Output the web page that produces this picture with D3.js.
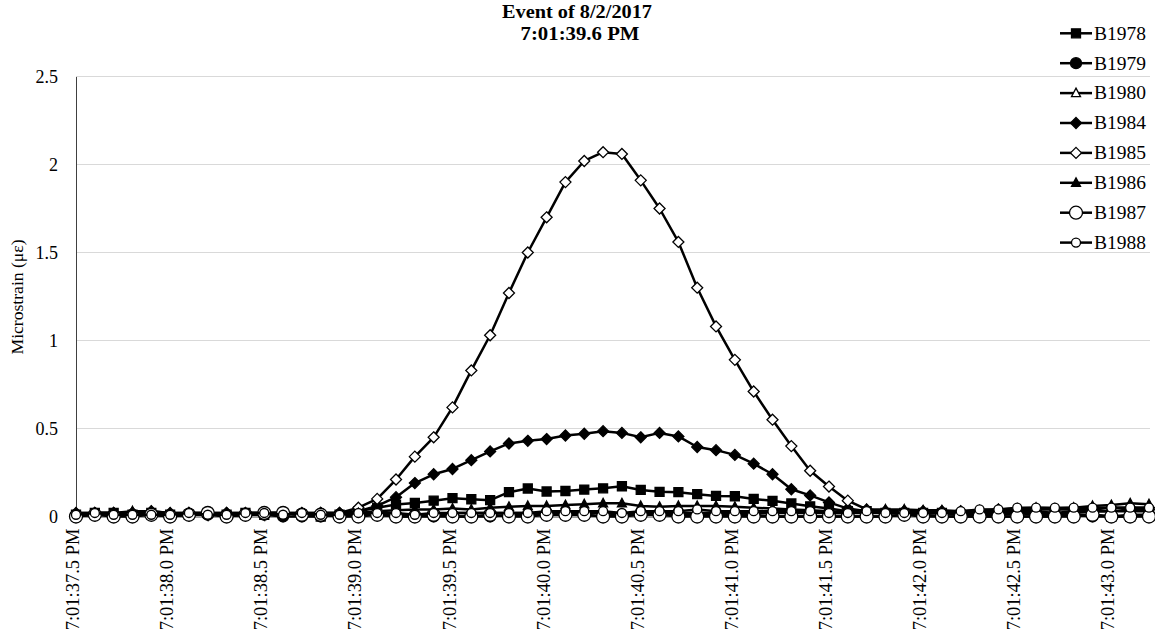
<!DOCTYPE html>
<html><head><meta charset="utf-8">
<script src="https://cdn.jsdelivr.net/npm/d3@7"></script>
<style>body{margin:0;background:#fff}text{font-family:"Liberation Serif","Times New Roman",serif}</style>
</head><body><svg id="c" width="1155" height="635"></svg>
<script>
const categories = ["7:01:37.5 PM","7:01:37.6 PM","7:01:37.7 PM","7:01:37.8 PM","7:01:37.9 PM",
"7:01:38.0 PM","7:01:38.1 PM","7:01:38.2 PM","7:01:38.3 PM","7:01:38.4 PM",
"7:01:38.5 PM","7:01:38.6 PM","7:01:38.7 PM","7:01:38.8 PM","7:01:38.9 PM",
"7:01:39.0 PM","7:01:39.1 PM","7:01:39.2 PM","7:01:39.3 PM","7:01:39.4 PM",
"7:01:39.5 PM","7:01:39.6 PM","7:01:39.7 PM","7:01:39.8 PM","7:01:39.9 PM",
"7:01:40.0 PM","7:01:40.1 PM","7:01:40.2 PM","7:01:40.3 PM","7:01:40.4 PM",
"7:01:40.5 PM","7:01:40.6 PM","7:01:40.7 PM","7:01:40.8 PM","7:01:40.9 PM",
"7:01:41.0 PM","7:01:41.1 PM","7:01:41.2 PM","7:01:41.3 PM","7:01:41.4 PM",
"7:01:41.5 PM","7:01:41.6 PM","7:01:41.7 PM","7:01:41.8 PM","7:01:41.9 PM",
"7:01:42.0 PM","7:01:42.1 PM","7:01:42.2 PM","7:01:42.3 PM","7:01:42.4 PM",
"7:01:42.5 PM","7:01:42.6 PM","7:01:42.7 PM","7:01:42.8 PM","7:01:42.9 PM",
"7:01:43.0 PM","7:01:43.1 PM","7:01:43.2 PM"];
const tickLabels = ["7:01:37.5 PM","7:01:38.0 PM","7:01:38.5 PM","7:01:39.0 PM","7:01:39.5 PM","7:01:40.0 PM","7:01:40.5 PM","7:01:41.0 PM","7:01:41.5 PM","7:01:42.0 PM","7:01:42.5 PM","7:01:43.0 PM"];
const yTicks = [0, 0.5, 1, 1.5, 2, 2.5];
const seriesNames = ["B1978","B1979","B1980","B1984","B1985","B1986","B1987","B1988"];
const B1978 = [0.01,0.02,0.02,0.01,0.02,0.01,0.01,0.02,0.01,0.02,0.01,0.02,0.01,0.00,0.01,
0.03,0.05,0.068,0.077,0.09,0.104,0.098,0.093,0.138,0.159,0.142,0.145,0.153,0.16,0.172,
0.151,0.14,0.138,0.127,0.117,0.115,0.10,0.089,0.074,0.058,0.045,0.03,
0.03,0.02,0.02,0.02,0.02,0.01,0.01,0.01,0.02,0.01,0.01,0.01,0.01,0.00,0.00,0.01];
const B1979 = [0.00,0.01,0.01,0.01,0.01,0.00,0.01,0.01,0.00,0.01,0.01,0.00,0.00,0.00,0.01,
0.01,0.01,0.00,0.00,0.00,0.00,0.00,0.00,0.01,0.01,0.01,0.01,0.01,0.00,0.01,
0.01,0.01,0.01,0.01,0.01,0.01,0.01,0.00,0.00,0.00,0.00,0.00,
0.00,0.00,0.01,0.01,0.00,0.00,0.00,0.00,0.00,0.00,0.00,0.01,0.00,0.00,0.01,0.01];
const B1980 = [0.01,0.02,0.02,0.02,0.02,0.01,0.02,0.02,0.01,0.02,0.02,0.02,0.01,0.01,0.02,
0.02,0.02,0.01,0.01,0.01,0.02,0.02,0.02,0.02,0.02,0.02,0.02,0.02,0.02,0.01,
0.02,0.02,0.02,0.02,0.02,0.02,0.02,0.02,0.02,0.02,0.02,0.02,
0.02,0.02,0.02,0.02,0.02,0.02,0.02,0.02,0.02,0.02,0.02,0.02,0.03,0.03,0.03,0.03];
const B1984 = [0.02,0.02,0.02,0.02,0.03,0.02,0.02,0.02,0.02,0.02,0.02,0.02,0.02,0.02,0.02,
0.03,0.06,0.11,0.19,0.24,0.27,0.32,0.37,0.415,0.43,0.44,0.46,0.47,0.485,0.475,
0.45,0.475,0.455,0.395,0.377,0.35,0.30,0.24,0.155,0.12,0.08,0.045,
0.03,0.03,0.03,0.02,0.02,0.02,0.02,0.03,0.03,0.03,0.02,0.03,0.03,0.03,0.04,0.04];
const B1985 = [0.01,0.02,0.02,0.01,0.02,0.01,0.02,0.01,0.02,0.01,0.02,0.02,0.01,0.02,0.02,
0.05,0.10,0.21,0.34,0.45,0.62,0.83,1.03,1.27,1.50,1.70,1.90,2.02,2.07,2.06,
1.91,1.75,1.56,1.30,1.08,0.89,0.71,0.55,0.40,0.26,0.17,0.09,
0.04,0.03,0.03,0.03,0.03,0.03,0.03,0.04,0.04,0.04,0.04,0.04,0.04,0.05,0.05,0.05];
const B1986 = [0.02,0.02,0.02,0.03,0.03,0.02,0.02,0.02,0.02,0.02,0.02,0.02,0.02,0.02,0.02,
0.02,0.03,0.035,0.04,0.04,0.045,0.04,0.05,0.055,0.06,0.06,0.065,0.07,0.075,0.075,
0.06,0.055,0.06,0.06,0.06,0.055,0.05,0.045,0.04,0.035,0.03,0.025,
0.04,0.04,0.04,0.035,0.035,0.03,0.035,0.04,0.045,0.05,0.045,0.05,0.06,0.065,0.075,0.07];
const B1987 = [0.00,0.01,0.00,0.00,0.01,0.00,0.01,0.02,0.00,0.01,0.02,0.02,0.01,0.01,0.00,
0.00,0.01,0.00,0.00,0.01,0.00,0.00,0.01,0.00,0.00,0.01,0.01,0.01,0.00,0.00,
0.01,0.01,0.00,0.00,0.00,0.00,0.00,0.00,0.00,0.00,0.00,0.00,
0.00,0.00,0.01,0.00,0.00,0.00,0.00,0.00,0.00,0.00,0.00,0.00,0.01,0.00,0.00,0.00];
const B1988 = [0.01,0.02,0.01,0.01,0.01,0.01,0.02,0.01,0.01,0.02,0.02,0.01,0.02,0.01,0.01,
0.02,0.02,0.02,0.01,0.02,0.02,0.02,0.02,0.02,0.02,0.03,0.03,0.03,0.03,0.02,
0.03,0.03,0.03,0.04,0.03,0.03,0.03,0.03,0.03,0.03,0.02,0.02,
0.03,0.02,0.02,0.02,0.02,0.03,0.04,0.04,0.05,0.05,0.05,0.05,0.05,0.05,0.05,0.05];
const seriesValues = [B1978,B1979,B1980,B1984,B1985,B1986,B1987,B1988];
const markerKinds = [
 {shape:"square",r:4.5,fill:"#000"},
 {shape:"circle",r:5.5,fill:"#000"},
 {shape:"triangle",r:4.5,fill:"#fff"},
 {shape:"diamond",r:5.5,fill:"#000"},
 {shape:"diamond",r:5.5,fill:"#fff"},
 {shape:"triangle",r:4.5,fill:"#000"},
 {shape:"circle",r:6.5,fill:"#fff"},
 {shape:"circle",r:4.5,fill:"#fff"}];

function markerPath(shape, r){
  if(shape==="square") return `M${-r},${-r}H${r}V${r}H${-r}Z`;
  if(shape==="diamond") return `M0,${-r}L${r},0L0,${r}L${-r},0Z`;
  if(shape==="triangle") return `M0,${-r*1.1}L${r},${r*0.8}L${-r},${r*0.8}Z`;
  const p=d3.path(); p.arc(0,0,r,0,2*Math.PI); return p.toString();
}

const svg = d3.select("#c");
const L=76, R=1149, T=76.5, B=516.5;
const x = d3.scalePoint().domain(categories).range([L,R]);
const y = d3.scaleLinear().domain([0,2.5]).range([B,T]);

// grid
svg.append("g").selectAll("line").data(yTicks.filter(d=>d>0)).join("line")
 .attr("x1",L).attr("x2",1150).attr("y1",d=>y(d)).attr("y2",d=>y(d))
 .attr("stroke","#d9d9d9").attr("stroke-width",1);

// y axis
const yAxis = svg.append("g").attr("transform",`translate(${L},0)`)
 .call(d3.axisLeft(y).tickValues(yTicks).tickSize(0).tickPadding(18).tickFormat(d=>String(d)));
yAxis.select(".domain").attr("stroke","#404040").attr("stroke-width",1);
yAxis.selectAll("text").attr("font-size",18).attr("fill","#000").attr("font-family","Liberation Serif");

// x axis
const xAxis = svg.append("g").attr("transform",`translate(0,${B})`)
 .call(d3.axisBottom(x).tickSize(5).tickFormat(d=>tickLabels.includes(d)?d:""));
xAxis.select(".domain").attr("stroke","#404040").attr("d",`M${L},0.5H1150`);
xAxis.selectAll(".tick line").attr("stroke","#404040");
xAxis.selectAll("text").attr("font-size",18.5).attr("fill","#000").attr("font-family","Liberation Serif")
 .attr("transform","rotate(-90)").attr("text-anchor","end").attr("dy","0.3em").attr("x",-12).attr("y",-3);

// series
const line = d3.line().x((d,i)=>x(categories[i])).y(d=>y(d));
seriesValues.forEach((vals,k)=>{
  const g = svg.append("g");
  g.append("path").attr("d",line(vals)).attr("fill","none").attr("stroke","#000").attr("stroke-width",2.5).attr("stroke-linejoin","round");
  const m = markerKinds[k];
  g.selectAll("path.m").data(vals).join("path").attr("class","m")
   .attr("transform",(d,i)=>`translate(${x(categories[i])},${y(d)})`)
   .attr("d",markerPath(m.shape,m.r)).attr("fill",m.fill).attr("stroke","#000").attr("stroke-width",1.3);
});

// title
svg.append("text").attr("x",577).attr("y",18).attr("text-anchor","middle").attr("font-weight","bold").attr("font-size",18)
 .attr("textLength",150).attr("lengthAdjust","spacingAndGlyphs").text("Event of 8/2/2017");
svg.append("text").attr("x",580).attr("y",40).attr("text-anchor","middle").attr("font-weight","bold").attr("font-size",18)
 .attr("textLength",119).attr("lengthAdjust","spacingAndGlyphs").text("7:01:39.6 PM");

// y label
svg.append("text").attr("transform","translate(23,297) rotate(-90)").attr("text-anchor","middle").attr("font-size",17)
 .attr("textLength",115).attr("lengthAdjust","spacingAndGlyphs").text("Microstrain (\u03bc\u03b5)");

// legend
const lg = svg.append("g");
seriesNames.forEach((n,k)=>{
  const yy = 33.3 + k*29.9;
  lg.append("line").attr("x1",1060).attr("x2",1092).attr("y1",yy).attr("y2",yy).attr("stroke","#000").attr("stroke-width",2.5);
  const m = markerKinds[k];
  lg.append("path").attr("transform",`translate(1076,${yy})`).attr("d",markerPath(m.shape,m.r)).attr("fill",m.fill).attr("stroke","#000").attr("stroke-width",1.3);
  lg.append("text").attr("x",1094).attr("y",yy).attr("dy","0.35em").attr("font-size",18)
   .attr("textLength",52).attr("lengthAdjust","spacingAndGlyphs").text(n);
});
</script></body></html>
